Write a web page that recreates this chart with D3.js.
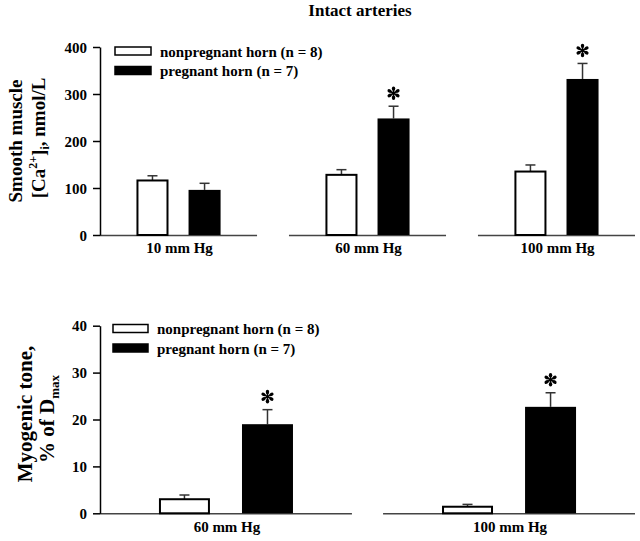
<!DOCTYPE html>
<html>
<head>
<meta charset="utf-8">
<script src="https://cdn.jsdelivr.net/npm/d3@7"></script>
<style>
  body { margin: 0; background: #fff; }
  text { font-family: "Liberation Serif", "Times New Roman", serif; font-weight: bold; fill: #000; }
</style>
</head>
<body>
<div id="graph"></div>
<script>
// --- data ---
var series = ["nonpregnant horn (n = 8)", "pregnant horn (n = 7)"];

// top panel: smooth muscle [Ca2+]i, nmol/L
var caGroups = ["10 mm Hg", "60 mm Hg", "100 mm Hg"];
var caNonpreg = [116, 128, 135];
var caNonpregSem = [10, 11, 14];
var caPreg = [96, 248, 332];
var caPregSem = [14, 26, 33];
var caSignif = [false, true, true];
var caTicks = [0, 100, 200, 300, 400];

// bottom panel: myogenic tone, % of Dmax
var toneGroups = ["60 mm Hg", "100 mm Hg"];
var toneNonpreg = [3.0, 1.4];
var toneNonpregSem = [0.9, 0.5];
var tonePreg = [19.0, 22.7];
var tonePregSem = [3.1, 3.0];
var toneSignif = [true, true];
var toneTicks = [0, 10, 20, 30, 40];

function draw_function() {
    var svg = d3.select("#graph").append("svg")
        .attr("width", 640).attr("height", 541);

    svg.append("text")
        .attr("x", 360).attr("y", 16)
        .attr("text-anchor", "middle")
        .style("font-size", "17px")
        .text("Intact arteries");

    // top panel
    draw_panel(svg, {
        groups: caGroups, a: caNonpreg, aErr: caNonpregSem, b: caPreg, bErr: caPregSem,
        signif: caSignif, ticks: caTicks, ymax: 400,
        top: 47, bottom: 235, outerPad: 0.169, innerPad: 0.385, innerOuter: 0.70,
        labelY: 253, legendX: 115, legendW: 36, legendY: 47, legendTextX: 160
    });
    var yl = svg.append("g").attr("transform", "rotate(-90)");
    yl.append("text").attr("x", -141).attr("y", 21.5).attr("text-anchor", "middle")
        .style("font-size", "19px").text("Smooth muscle");
    var t2 = yl.append("text").attr("x", -138).attr("y", 45).attr("text-anchor", "middle")
        .style("font-size", "19px");
    t2.append("tspan").text("[Ca");
    t2.append("tspan").attr("dy", -8).style("font-size", "12px").text("2+");
    t2.append("tspan").attr("dy", 8).text("]");
    t2.append("tspan").attr("dy", 4).style("font-size", "12px").text("i");
    t2.append("tspan").attr("dy", -4).text(", nmol/L");

    // bottom panel
    draw_panel(svg, {
        groups: toneGroups, a: toneNonpreg, aErr: toneNonpregSem, b: tonePreg, bErr: tonePregSem,
        signif: toneSignif, ticks: toneTicks, ymax: 40,
        top: 325.7, bottom: 513.3, outerPad: 0.11, innerPad: 0.386, innerOuter: 0.71,
        labelY: 532, legendX: 113, legendW: 35, legendY: 324.5, legendTextX: 157
    });
    var yl2 = svg.append("g").attr("transform", "rotate(-90)");
    yl2.append("text").attr("x", -414).attr("y", 32).attr("text-anchor", "middle")
        .style("font-size", "21px").text("Myogenic tone,");
    var t3 = yl2.append("text").attr("x", -419).attr("y", 54).attr("text-anchor", "middle")
        .style("font-size", "21px");
    t3.append("tspan").text("% of D");
    t3.append("tspan").attr("dy", 5).style("font-size", "13px").text("max");
}

// six teardrop petals, like the printed asterisk
function asterisk(g) {
    d3.range(6).forEach(function(k) {
        var p = g.append("g").attr("transform", "rotate(" + (k * 60) + ")");
        p.append("line").attr("x1", 0).attr("y1", 0).attr("x2", 0).attr("y2", -4.5)
            .attr("stroke", "#000").attr("stroke-width", 1.6);
        p.append("ellipse").attr("cx", 0).attr("cy", -4.6)
            .attr("rx", 1.7).attr("ry", 2.2).attr("fill", "#000");
    });
}

function draw_panel(svg, o) {
    var y = d3.scaleLinear().domain([0, o.ymax]).range([o.bottom, o.top]);
    var x0 = d3.scaleBand().domain(o.groups).range([100, 635])
        .paddingInner(o.outerPad).paddingOuter(0);
    var x1 = d3.scaleBand().domain([0, 1]).range([0, x0.bandwidth()])
        .paddingInner(o.innerPad).paddingOuter(o.innerOuter);

    var rows = [];
    o.groups.forEach(function(g, i) {
        rows.push({g: g, s: 0, v: o.a[i], e: o.aErr[i], sig: false});
        rows.push({g: g, s: 1, v: o.b[i], e: o.bErr[i], sig: o.signif[i]});
    });

    // x-axis segments
    svg.append("g").selectAll("line").data(o.groups).enter().append("line")
        .attr("x1", function(d) { return x0(d); })
        .attr("x2", function(d) { return x0(d) + x0.bandwidth(); })
        .attr("y1", o.bottom + 0.5).attr("y2", o.bottom + 0.5)
        .attr("stroke", "#444").attr("stroke-width", 1.5);

    // error bars
    var eb = svg.append("g").selectAll("g").data(rows).enter().append("g")
        .attr("transform", function(d) { return "translate(" + (x0(d.g) + x1(d.s) + x1.bandwidth() / 2) + ",0)"; });
    eb.append("line").attr("x1", 0).attr("x2", 0)
        .attr("y1", function(d) { return y(d.v); })
        .attr("y2", function(d) { return y(d.v + d.e); })
        .attr("stroke", "#333").attr("stroke-width", 1.5);
    eb.append("line").attr("x1", -5).attr("x2", 5)
        .attr("y1", function(d) { return y(d.v + d.e); })
        .attr("y2", function(d) { return y(d.v + d.e); })
        .attr("stroke", "#333").attr("stroke-width", 1.5);

    // bars
    svg.append("g").selectAll("rect").data(rows).enter().append("rect")
        .attr("x", function(d) { return x0(d.g) + x1(d.s) + (d.s == 0 ? 1 : 0); })
        .attr("width", function(d) { return x1.bandwidth() - (d.s == 0 ? 2 : 0); })
        .attr("y", function(d) { return y(d.v); })
        .attr("height", function(d) { return o.bottom - y(d.v); })
        .attr("fill", function(d) { return d.s == 0 ? "#fff" : "#000"; })
        .attr("stroke", "#000")
        .attr("stroke-width", function(d) { return d.s == 0 ? 2 : 0; });

    // significance asterisks
    svg.append("g").selectAll("g").data(rows.filter(function(d) { return d.sig; }))
        .enter().append("g")
        .attr("transform", function(d) {
            return "translate(" + (x0(d.g) + x1(d.s) + x1.bandwidth() / 2) + "," + (y(d.v + d.e) - 13) + ")";
        })
        .each(function() { asterisk(d3.select(this)); });

    // group labels
    svg.append("g").selectAll("text").data(o.groups).enter().append("text")
        .attr("x", function(d) { return x0(d) + x0.bandwidth() / 2 + 1; })
        .attr("y", o.labelY)
        .attr("text-anchor", "middle")
        .style("font-size", "15px")
        .text(function(d) { return d; });

    // y axis
    var ax = svg.append("g").attr("transform", "translate(100,0)")
        .call(d3.axisLeft(y).tickValues(o.ticks).tickSize(7).tickSizeOuter(0).tickPadding(6));
    ax.select(".domain").attr("stroke", "#000").attr("stroke-width", 1.5);
    ax.selectAll(".tick line").attr("stroke", "#000").attr("stroke-width", 1.5);
    ax.selectAll(".tick text").style("font-size", "15px")
        .attr("font-family", null).attr("dy", "0.34em");

    // legend
    var lg = svg.append("g").selectAll("g").data(series).enter().append("g")
        .attr("transform", function(d, i) { return "translate(0," + (o.legendY + i * 19.5) + ")"; });
    lg.append("rect").attr("x", o.legendX).attr("y", 0)
        .attr("width", o.legendW).attr("height", 8)
        .attr("fill", function(d, i) { return i == 0 ? "#fff" : "#000"; })
        .attr("stroke", "#000").attr("stroke-width", 1.5);
    lg.append("text").attr("x", o.legendTextX).attr("y", 9.5)
        .style("font-size", "15px")
        .text(function(d) { return d; });
}

window.onload = draw_function;
</script>
</body>
</html>
